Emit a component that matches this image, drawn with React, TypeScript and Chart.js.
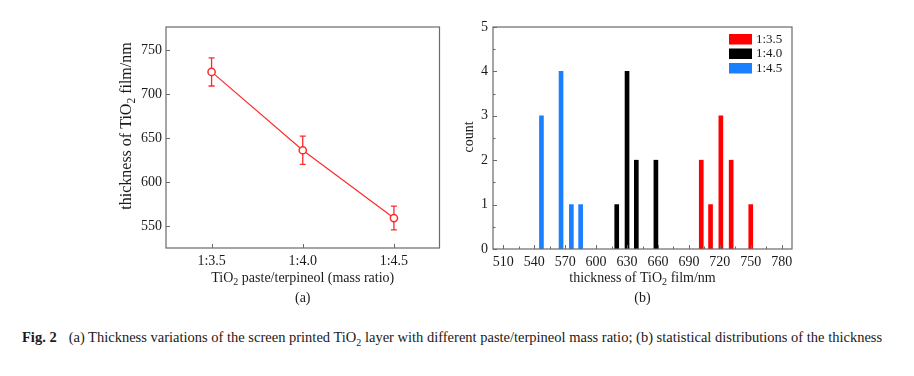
import React, { useEffect, useRef } from "react";
import { Chart, registerables } from "chart.js";
Chart.register(...registerables);

// ---- Panel (a) data ----
const ratioLabels = ["1:3.5", "1:4.0", "1:4.5"];
const meanThickness = [725, 636, 559];
const thicknessError = [16, 16, 13.5];
const leftYTicks = [550, 600, 650, 700, 750];
const leftXTicks = [1, 2, 3];

// ---- Panel (b) data ----
const seriesLabels = ["1:3.5", "1:4.0", "1:4.5"];
const seriesColors = ["#ff0000", "#000000", "#1a80ff"];
const thick35 = [702, 711, 721, 731, 750];
const count35 = [2, 1, 3, 2, 1];
const thick40 = [620, 630, 639, 658];
const count40 = [1, 4, 2, 2];
const thick45 = [547, 566, 576, 585];
const count45 = [3, 4, 1, 1];
const histXTicks = [510, 540, 570, 600, 630, 660, 690, 720, 750, 780];
const histXMinor = [525, 555, 585, 615, 645, 675, 705, 735, 765];
const histYTicks = [0, 1, 2, 3, 4, 5];
const histYMinor = [0.5, 1.5, 2.5, 3.5, 4.5];

const FONT = "'Liberation Serif', 'Times New Roman', serif";
const FRAME = "#6a6a6a";

type Part = { t: string; sub?: boolean };

function richWidth(ctx: CanvasRenderingContext2D, parts: Part[], size: number) {
  let w = 0;
  for (const p of parts) {
    ctx.font = `${p.sub ? size * 0.72 : size}px ${FONT}`;
    w += ctx.measureText(p.t).width;
  }
  return w;
}

function drawRich(ctx: CanvasRenderingContext2D, parts: Part[], cx: number, cy: number, size: number) {
  const w = richWidth(ctx, parts, size);
  let x = cx - w / 2;
  ctx.textBaseline = "middle";
  ctx.textAlign = "left";
  ctx.fillStyle = "#1a1a1a";
  for (const p of parts) {
    ctx.font = `${p.sub ? size * 0.72 : size}px ${FONT}`;
    ctx.fillText(p.t, x, cy + (p.sub ? size * 0.3 : 0));
    x += ctx.measureText(p.t).width;
  }
}

function decor(cfg: {
  xTitle: Part[];
  yTitle: Part[];
  yTitleSize: number;
  panel: string;
  yTitlePos: [number, number];
  xTitleY: number;
  panelY: number;
  xMajor: number[];
  yMajor: number[];
  xMinor?: number[];
  yMinor?: number[];
  errors?: { x: number[]; y: number[]; e: number[]; color: string };
  legend?: boolean;
}) {
  return {
    id: "decor" + cfg.panel,
    beforeDatasetsDraw(chart: any) {
      const ctx = chart.ctx as CanvasRenderingContext2D;
      const xs = chart.scales.x;
      const ys = chart.scales.y;
      if (cfg.errors) {
        const er = cfg.errors;
        ctx.save();
        ctx.strokeStyle = er.color;
        ctx.lineWidth = 1.3;
        for (let i = 0; i < er.x.length; i++) {
          const px = xs.getPixelForValue(er.x[i]);
          const top = ys.getPixelForValue(er.y[i] + er.e[i]);
          const bot = ys.getPixelForValue(er.y[i] - er.e[i]);
          ctx.beginPath();
          ctx.moveTo(px, top);
          ctx.lineTo(px, bot);
          ctx.moveTo(px - 3, top);
          ctx.lineTo(px + 3, top);
          ctx.moveTo(px - 3, bot);
          ctx.lineTo(px + 3, bot);
          ctx.stroke();
        }
        ctx.restore();
      }
    },
    afterDraw(chart: any) {
      const ctx = chart.ctx as CanvasRenderingContext2D;
      const a = chart.chartArea;
      const xs = chart.scales.x;
      const ys = chart.scales.y;
      ctx.save();
      // frame
      ctx.strokeStyle = FRAME;
      ctx.lineWidth = 1.2;
      ctx.strokeRect(a.left, a.top, a.right - a.left, a.bottom - a.top);
      // ticks
      ctx.beginPath();
      for (const v of cfg.xMajor) {
        const p = Math.round(xs.getPixelForValue(v)) + 0.5;
        ctx.moveTo(p, a.bottom);
        ctx.lineTo(p, a.bottom - 4);
      }
      for (const v of cfg.xMinor || []) {
        const p = Math.round(xs.getPixelForValue(v)) + 0.5;
        ctx.moveTo(p, a.bottom);
        ctx.lineTo(p, a.bottom - 2.5);
      }
      for (const v of cfg.yMajor) {
        const p = Math.round(ys.getPixelForValue(v)) + 0.5;
        ctx.moveTo(a.left, p);
        ctx.lineTo(a.left + 4, p);
      }
      for (const v of cfg.yMinor || []) {
        const p = Math.round(ys.getPixelForValue(v)) + 0.5;
        ctx.moveTo(a.left, p);
        ctx.lineTo(a.left + 2.5, p);
      }
      ctx.lineWidth = 1;
      ctx.stroke();
      // titles
      const cx = (a.left + a.right) / 2;
      drawRich(ctx, cfg.xTitle, cx, cfg.xTitleY, 14);
      ctx.save();
      ctx.translate(cfg.yTitlePos[0], cfg.yTitlePos[1]);
      ctx.rotate(-Math.PI / 2);
      drawRich(ctx, cfg.yTitle, 0, 0, cfg.yTitleSize);
      ctx.restore();
      drawRich(ctx, [{ t: cfg.panel }], cx, cfg.panelY, 14);
      // legend
      if (cfg.legend) {
        const ds = chart.data.datasets;
        for (let i = 0; i < ds.length; i++) {
          const top = a.top + 7 + i * 14.5;
          ctx.fillStyle = ds[i].backgroundColor;
          ctx.fillRect(a.right - 63, top, 23, 10.5);
          ctx.fillStyle = "#1a1a1a";
          ctx.font = `13px ${FONT}`;
          ctx.textBaseline = "middle";
          ctx.textAlign = "left";
          ctx.fillText(ds[i].label, a.right - 36, top + 5.5);
        }
      }
      ctx.restore();
    },
  };
}

const tickFont = { family: FONT, size: 14 };

function LeftPanel() {
  const ref = useRef<HTMLCanvasElement>(null);
  useEffect(() => {
    const chart = new Chart(ref.current!, {
      type: "line",
      data: {
        datasets: [
          {
            label: "thickness",
            data: meanThickness.map((v, i) => ({ x: i + 1, y: v })),
            borderColor: "#ff2a2a",
            borderWidth: 1.2,
            pointRadius: 3.6,
            pointBackgroundColor: "#ffffff",
            pointBorderColor: "#ff2a2a",
            pointBorderWidth: 1.5,
          },
        ],
      },
      options: {
        responsive: false,
        animation: false,
        layout: { padding: { left: 0, right: 5, top: 27, bottom: 0 } },
        plugins: { legend: { display: false }, tooltip: { enabled: false } },
        scales: {
          x: {
            type: "linear",
            min: 0.5,
            max: 3.5,
            grid: { display: false, drawTicks: false },
            border: { display: false },
            afterBuildTicks: (s: any) => {
              s.ticks = leftXTicks.map((v) => ({ value: v }));
            },
            afterFit: (s: any) => {
              s.height = 72;
            },
            ticks: {
              font: tickFont,
              color: "#1a1a1a",
              padding: 5,
              maxRotation: 0,
              autoSkip: false,
              callback: (v: any) => ratioLabels[Number(v) - 1] ?? "",
            },
          },
          y: {
            type: "linear",
            min: 525,
            max: 776,
            grid: { display: false, drawTicks: false },
            border: { display: false },
            afterBuildTicks: (s: any) => {
              s.ticks = leftYTicks.map((v) => ({ value: v }));
            },
            afterFit: (s: any) => {
              s.width = 66;
            },
            ticks: { font: tickFont, color: "#1a1a1a", padding: 4 },
          },
        },
      },
      plugins: [
        decor({
          xTitle: [{ t: "TiO" }, { t: "2", sub: true }, { t: " paste/terpineol (mass ratio)" }],
          yTitle: [{ t: "thickness of TiO" }, { t: "2", sub: true }, { t: " film/nm" }],
          yTitleSize: 16,
          panel: "(a)",
          yTitlePos: [27, 126],
          xTitleY: 278,
          panelY: 298,
          xMajor: leftXTicks,
          yMajor: leftYTicks,
          errors: { x: leftXTicks, y: meanThickness, e: thicknessError, color: "#ff2a2a" },
        }),
      ],
    } as any);
    return () => chart.destroy();
  }, []);
  return (
    <canvas
      ref={ref}
      width={345}
      height={320}
      style={{ position: "absolute", left: 100, top: 0, width: 345, height: 320 }}
    />
  );
}

function RightPanel() {
  const ref = useRef<HTMLCanvasElement>(null);
  useEffect(() => {
    const xsArr = [thick35, thick40, thick45];
    const cArr = [count35, count40, count45];
    const chart = new Chart(ref.current!, {
      type: "bar",
      data: {
        datasets: seriesLabels.map((lab, k) => ({
          label: lab,
          data: xsArr[k].map((x, i) => ({ x, y: cArr[k][i] })),
          backgroundColor: seriesColors[k],
          borderWidth: 0,
          barThickness: 4,
          grouped: false,
        })),
      },
      options: {
        responsive: false,
        animation: false,
        layout: { padding: { left: 0, right: 8, top: 27, bottom: 0 } },
        plugins: { legend: { display: false }, tooltip: { enabled: false } },
        scales: {
          x: {
            type: "linear",
            min: 500,
            max: 790,
            offset: false,
            grid: { display: false, drawTicks: false, offset: false },
            border: { display: false },
            afterBuildTicks: (s: any) => {
              s.ticks = histXTicks.map((v) => ({ value: v }));
            },
            afterFit: (s: any) => {
              s.height = 71;
            },
            ticks: { font: tickFont, color: "#1a1a1a", padding: 5, maxRotation: 0, autoSkip: false },
          },
          y: {
            type: "linear",
            min: 0,
            max: 5,
            grid: { display: false, drawTicks: false },
            border: { display: false },
            afterBuildTicks: (s: any) => {
              s.ticks = histYTicks.map((v) => ({ value: v }));
            },
            afterFit: (s: any) => {
              s.width = 53;
            },
            ticks: { font: tickFont, color: "#1a1a1a", padding: 5 },
          },
        },
      },
      plugins: [
        decor({
          xTitle: [{ t: "thickness of TiO" }, { t: "2", sub: true }, { t: " film/nm" }],
          yTitle: [{ t: "count" }],
          yTitleSize: 14,
          panel: "(b)",
          yTitlePos: [29, 137],
          xTitleY: 278,
          panelY: 298,
          xMajor: histXTicks,
          yMajor: histYTicks,
          xMinor: histXMinor,
          yMinor: histYMinor,
          legend: true,
        }),
      ],
    } as any);
    return () => chart.destroy();
  }, []);
  return (
    <canvas
      ref={ref}
      width={360}
      height={320}
      style={{ position: "absolute", left: 440, top: 0, width: 360, height: 320 }}
    />
  );
}

export default function App() {
  return (
    <div
      style={{
        position: "absolute",
        left: 0,
        top: 0,
        width: 914,
        height: 376,
        background: "#ffffff",
        overflow: "hidden",
      }}
    >
      <LeftPanel />
      <RightPanel />
      <div
        style={{
          position: "absolute",
          left: 22,
          top: 329,
          whiteSpace: "nowrap",
          fontFamily: FONT,
          fontSize: 14.5,
          color: "#1a1a1a",
        }}
      >
        <b style={{ marginRight: 12 }}>Fig. 2</b>
        (a) Thickness variations of the screen printed TiO<sub style={{ fontSize: 10 }}>2</sub> layer with
        different paste/terpineol mass ratio; (b) statistical distributions of the thickness
      </div>
    </div>
  );
}
